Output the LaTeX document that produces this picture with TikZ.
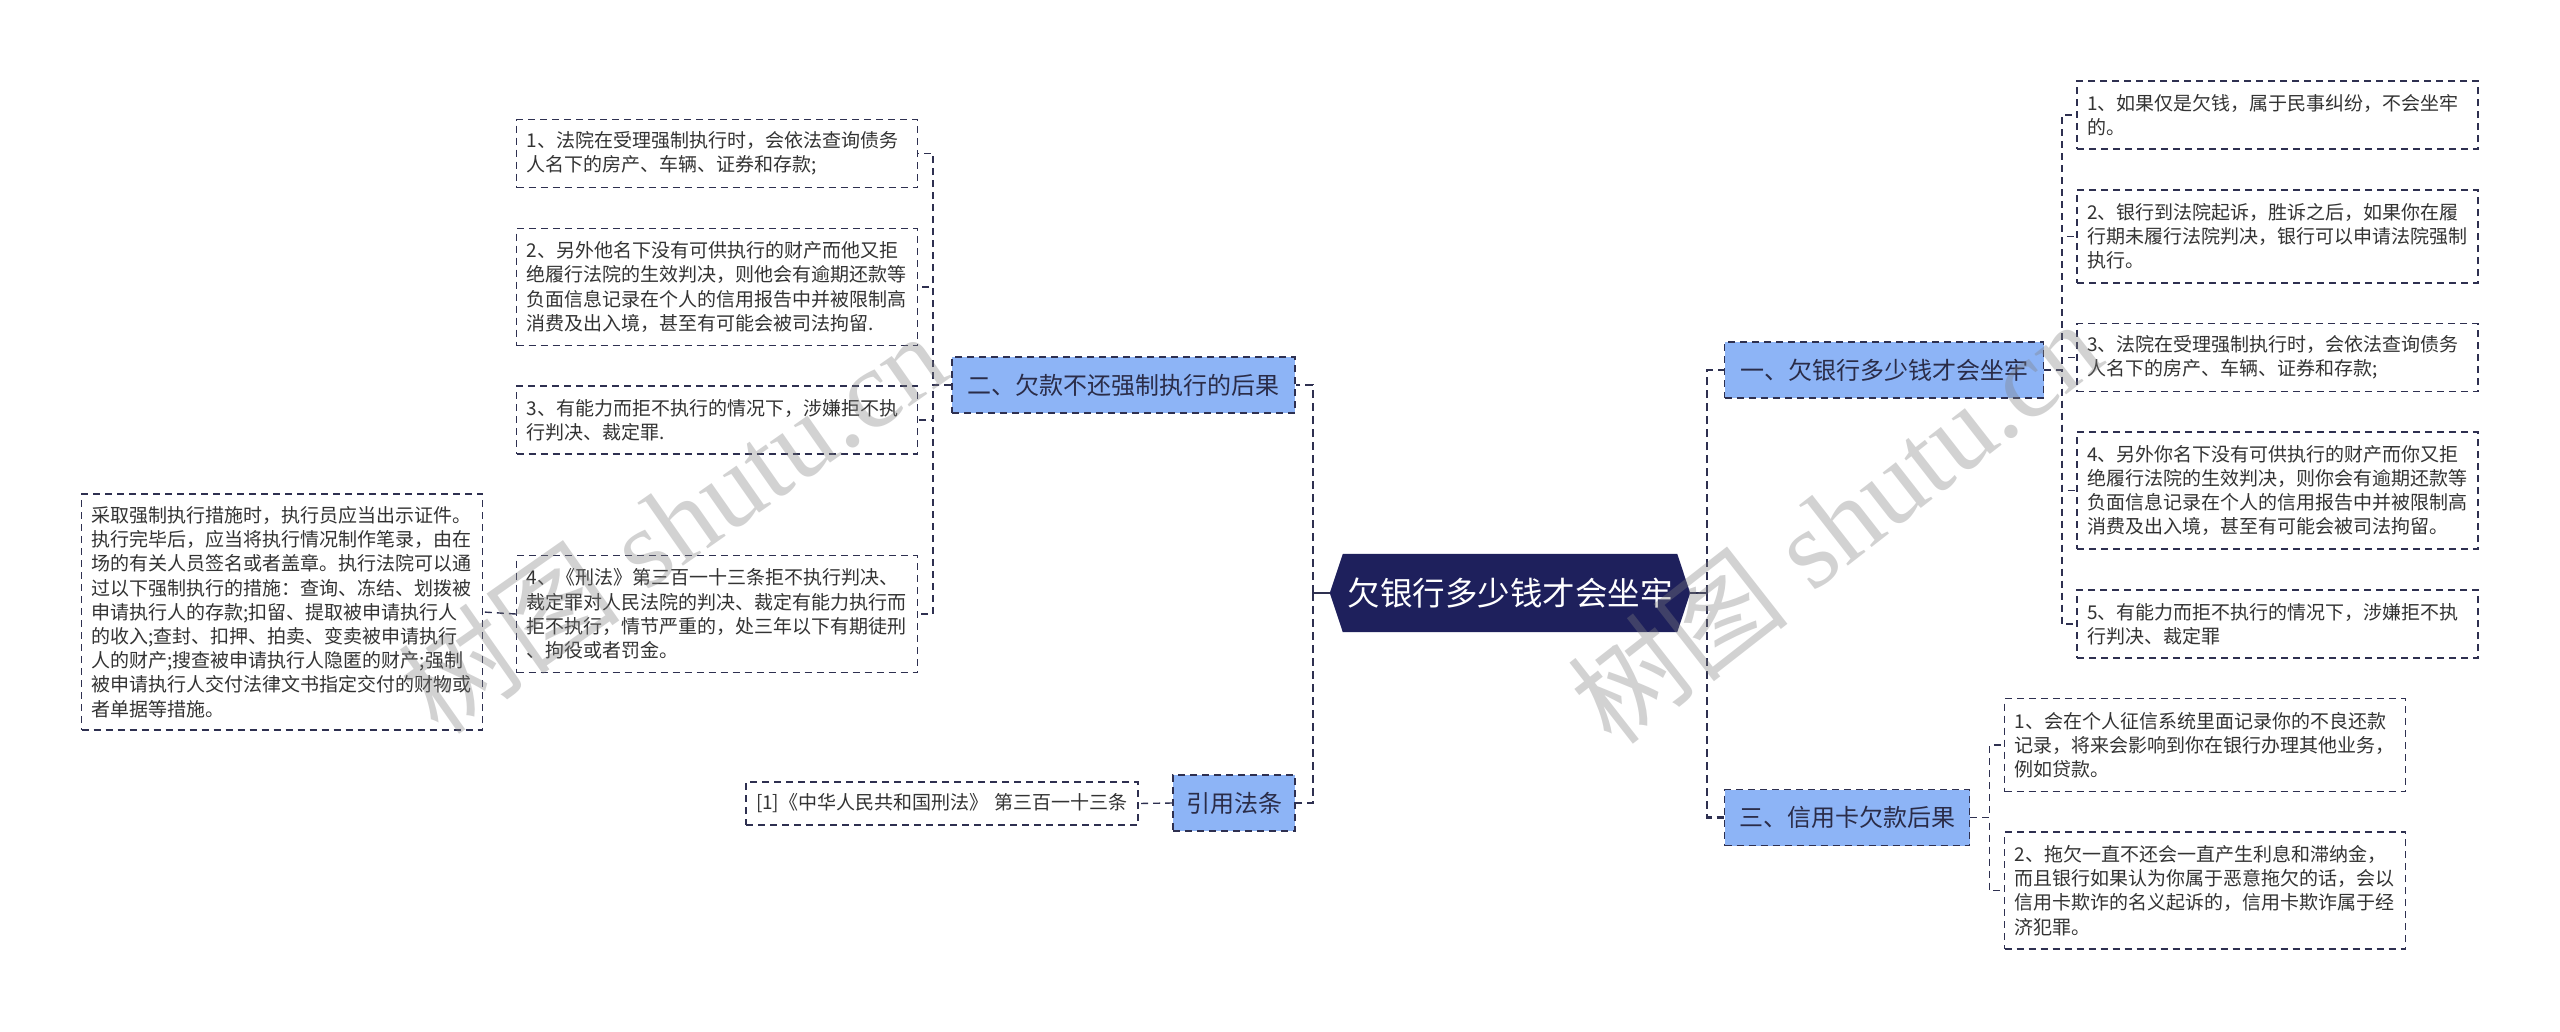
\documentclass[tikz,border=0pt]{standalone}
\usepackage{fontspec}
\newfontfamily\cjk{Noto Sans CJK SC}
\newfontfamily\wmlatin{Liberation Serif}
\usetikzlibrary{backgrounds}
\definecolor{navy}{HTML}{2E3050}
\definecolor{rootfill}{HTML}{1E205C}
\definecolor{branchfill}{HTML}{8DB4F6}
\definecolor{leaftext}{HTML}{333333}
\definecolor{branchtext}{HTML}{2A2C48}
\begin{document}
\begin{tikzpicture}[x=1pt,y=-1pt,
 leaf/.style={draw=navy, line width=1.4pt, dash pattern=on 7pt off 5pt, fill=white,
   text=leaftext, font=\cjk\fontsize{19}{24.2}\selectfont, text width=381pt,
   inner xsep=10pt, inner ysep=4pt, align=left},
 branch/.style={draw=navy, line width=1.8pt, dash pattern=on 7pt off 5pt, fill=branchfill,
   text=branchtext, font=\cjk\fontsize{24}{28}\selectfont, inner sep=0pt, minimum height=56pt},
 rootnode/.style={text=white, font=\cjk\fontsize{32.5}{36}\selectfont, inner sep=0pt,
   minimum width=360pt, minimum height=78pt},
 conn1/.style={draw=navy, line width=2.6pt, dash pattern=on 8pt off 5pt},
 conn2/.style={draw=navy, line width=1.4pt, dash pattern=on 7pt off 5pt},
 stub/.style={draw=navy, line width=2.6pt},
 watermark/.style={text=gray, opacity=0.35, font=\wmlatin\fontsize{112}{120}\selectfont, inner sep=0pt}
]
\useasboundingbox (0,0) rectangle (2560,1031);

% root
\node[rootnode] (root) at (1510,593) {欠银行多少钱才会坐牢};
\coordinate (lt) at (1313,593);
\coordinate (rt) at (1707,593);

% left branches
\node[branch, minimum width=343pt] (b2) at (1123.5,385) {二、欠款不还强制执行的后果};
\node[branch, minimum width=122pt] (bref) at (1234,803) {引用法条};

\node[leaf, minimum height=68pt] (L1) at (717,153.5) {1、法院在受理强制执行时，会依法查询债务\\人名下的房产、车辆、证券和存款;};
\node[leaf, minimum height=117pt] (L2) at (717,287) {2、另外他名下没有可供执行的财产而他又拒\\绝履行法院的生效判决，则他会有逾期还款等\\负面信息记录在个人的信用报告中并被限制高\\消费及出入境，甚至有可能会被司法拘留.};
\node[leaf, minimum height=68pt] (L3) at (717,420) {3、有能力而拒不执行的情况下，涉嫌拒不执\\行判决、裁定罪.};
\node[leaf, minimum height=117pt] (L4) at (717,614) {4、《刑法》第三百一十三条拒不执行判决、\\裁定罪对人民法院的判决、裁定有能力执行而\\拒不执行，情节严重的，处三年以下有期徒刑\\、拘役或者罚金。};
\node[leaf, minimum height=236pt] (FL) at (282,612) {采取强制执行措施时，执行员应当出示证件。\\执行完毕后，应当将执行情况制作笔录，由在\\场的有关人员签名或者盖章。执行法院可以通\\过以下强制执行的措施：查询、冻结、划拨被\\申请执行人的存款;扣留、提取被申请执行人\\的收入;查封、扣押、拍卖、变卖被申请执行\\人的财产;搜查被申请执行人隐匿的财产;强制\\被申请执行人交付法律文书指定交付的财物或\\者单据等措施。};
\node[leaf, text width=372pt, minimum height=43pt] (RC) at (942,803.5) {[1]《中华人民共和国刑法》 第三百一十三条};

% right branches
\node[branch, minimum width=319pt] (b1) at (1884,370) {一、欠银行多少钱才会坐牢};
\node[branch, minimum width=245pt] (b3) at (1847,817.5) {三、信用卡欠款后果};

\node[leaf, minimum height=68pt] (R1) at (2277.5,115) {1、如果仅是欠钱，属于民事纠纷，不会坐牢\\的。};
\node[leaf, minimum height=93pt] (R2) at (2277.5,236.5) {2、银行到法院起诉，胜诉之后，如果你在履\\行期未履行法院判决，银行可以申请法院强制\\执行。};
\node[leaf, minimum height=68pt] (R3) at (2277.5,357.5) {3、法院在受理强制执行时，会依法查询债务\\人名下的房产、车辆、证券和存款;};
\node[leaf, minimum height=117pt] (R4) at (2277.5,490.5) {4、另外你名下没有可供执行的财产而你又拒\\绝履行法院的生效判决，则你会有逾期还款等\\负面信息记录在个人的信用报告中并被限制高\\消费及出入境，甚至有可能会被司法拘留。};
\node[leaf, minimum height=68pt] (R5) at (2277.5,624) {5、有能力而拒不执行的情况下，涉嫌拒不执\\行判决、裁定罪};

\node[leaf, minimum height=93pt] (C1) at (2205,745) {1、会在个人征信系统里面记录你的不良还款\\记录，将来会影响到你在银行办理其他业务，\\例如贷款。};
\node[leaf, minimum height=117pt] (C2) at (2205,890.5) {2、拖欠一直不还会一直产生利息和滞纳金，\\而且银行如果认为你属于恶意拖欠的话，会以\\信用卡欺诈的名义起诉的，信用卡欺诈属于经\\济犯罪。};

% background: page and root hexagon
\begin{scope}[on background layer]
\fill[white] (0,0) rectangle (2560,1031);
\fill[rootfill] (root.west) -- ([xshift=13pt]root.north west) -- ([xshift=-13pt]root.north east)
  -- (root.east) -- ([xshift=-13pt]root.south east) -- ([xshift=13pt]root.south west) -- cycle;
% connectors
\draw[stub] (root.west) -- (lt);
\draw[stub] (root.east) -- (rt);
\draw[conn1] (lt) |- (b2.east);
\draw[conn1] (lt) |- (bref.east);
\draw[conn1] (rt) |- (b1.west);
\draw[conn1] (rt) |- (b3.west);
\draw[conn2] (b2.west) -- ++(-18,0) |- (L1.east);
\draw[conn2] (b2.west) -- ++(-18,0) |- (L2.east);
\draw[conn2] (b2.west) -- ++(-18,0) |- (L3.east);
\draw[conn2] (b2.west) -- ++(-18,0) |- (L4.east);
\draw[conn2] (L4.west) -- (FL.east);
\draw[conn2] (bref.west) -- (RC.east);
\draw[conn2] (b1.east) -- ++(17.5,0) |- (R1.west);
\draw[conn2] (b1.east) -- ++(17.5,0) |- (R2.west);
\draw[conn2] (b1.east) -- ++(17.5,0) |- (R3.west);
\draw[conn2] (b1.east) -- ++(17.5,0) |- (R4.west);
\draw[conn2] (b1.east) -- ++(17.5,0) |- (R5.west);
\draw[conn2] (b3.east) -- ++(19,0) |- (C1.west);
\draw[conn2] (b3.east) -- ++(19,0) |- (C2.west);
\end{scope}

% watermarks
\node[watermark, rotate=35] (wm1) at (672,522) {{\cjk 树图} shutu.cn};
\node[watermark, rotate=38] (wm2) at (1835,522) {{\cjk 树图} shutu.cn};
\end{tikzpicture}
\end{document}
